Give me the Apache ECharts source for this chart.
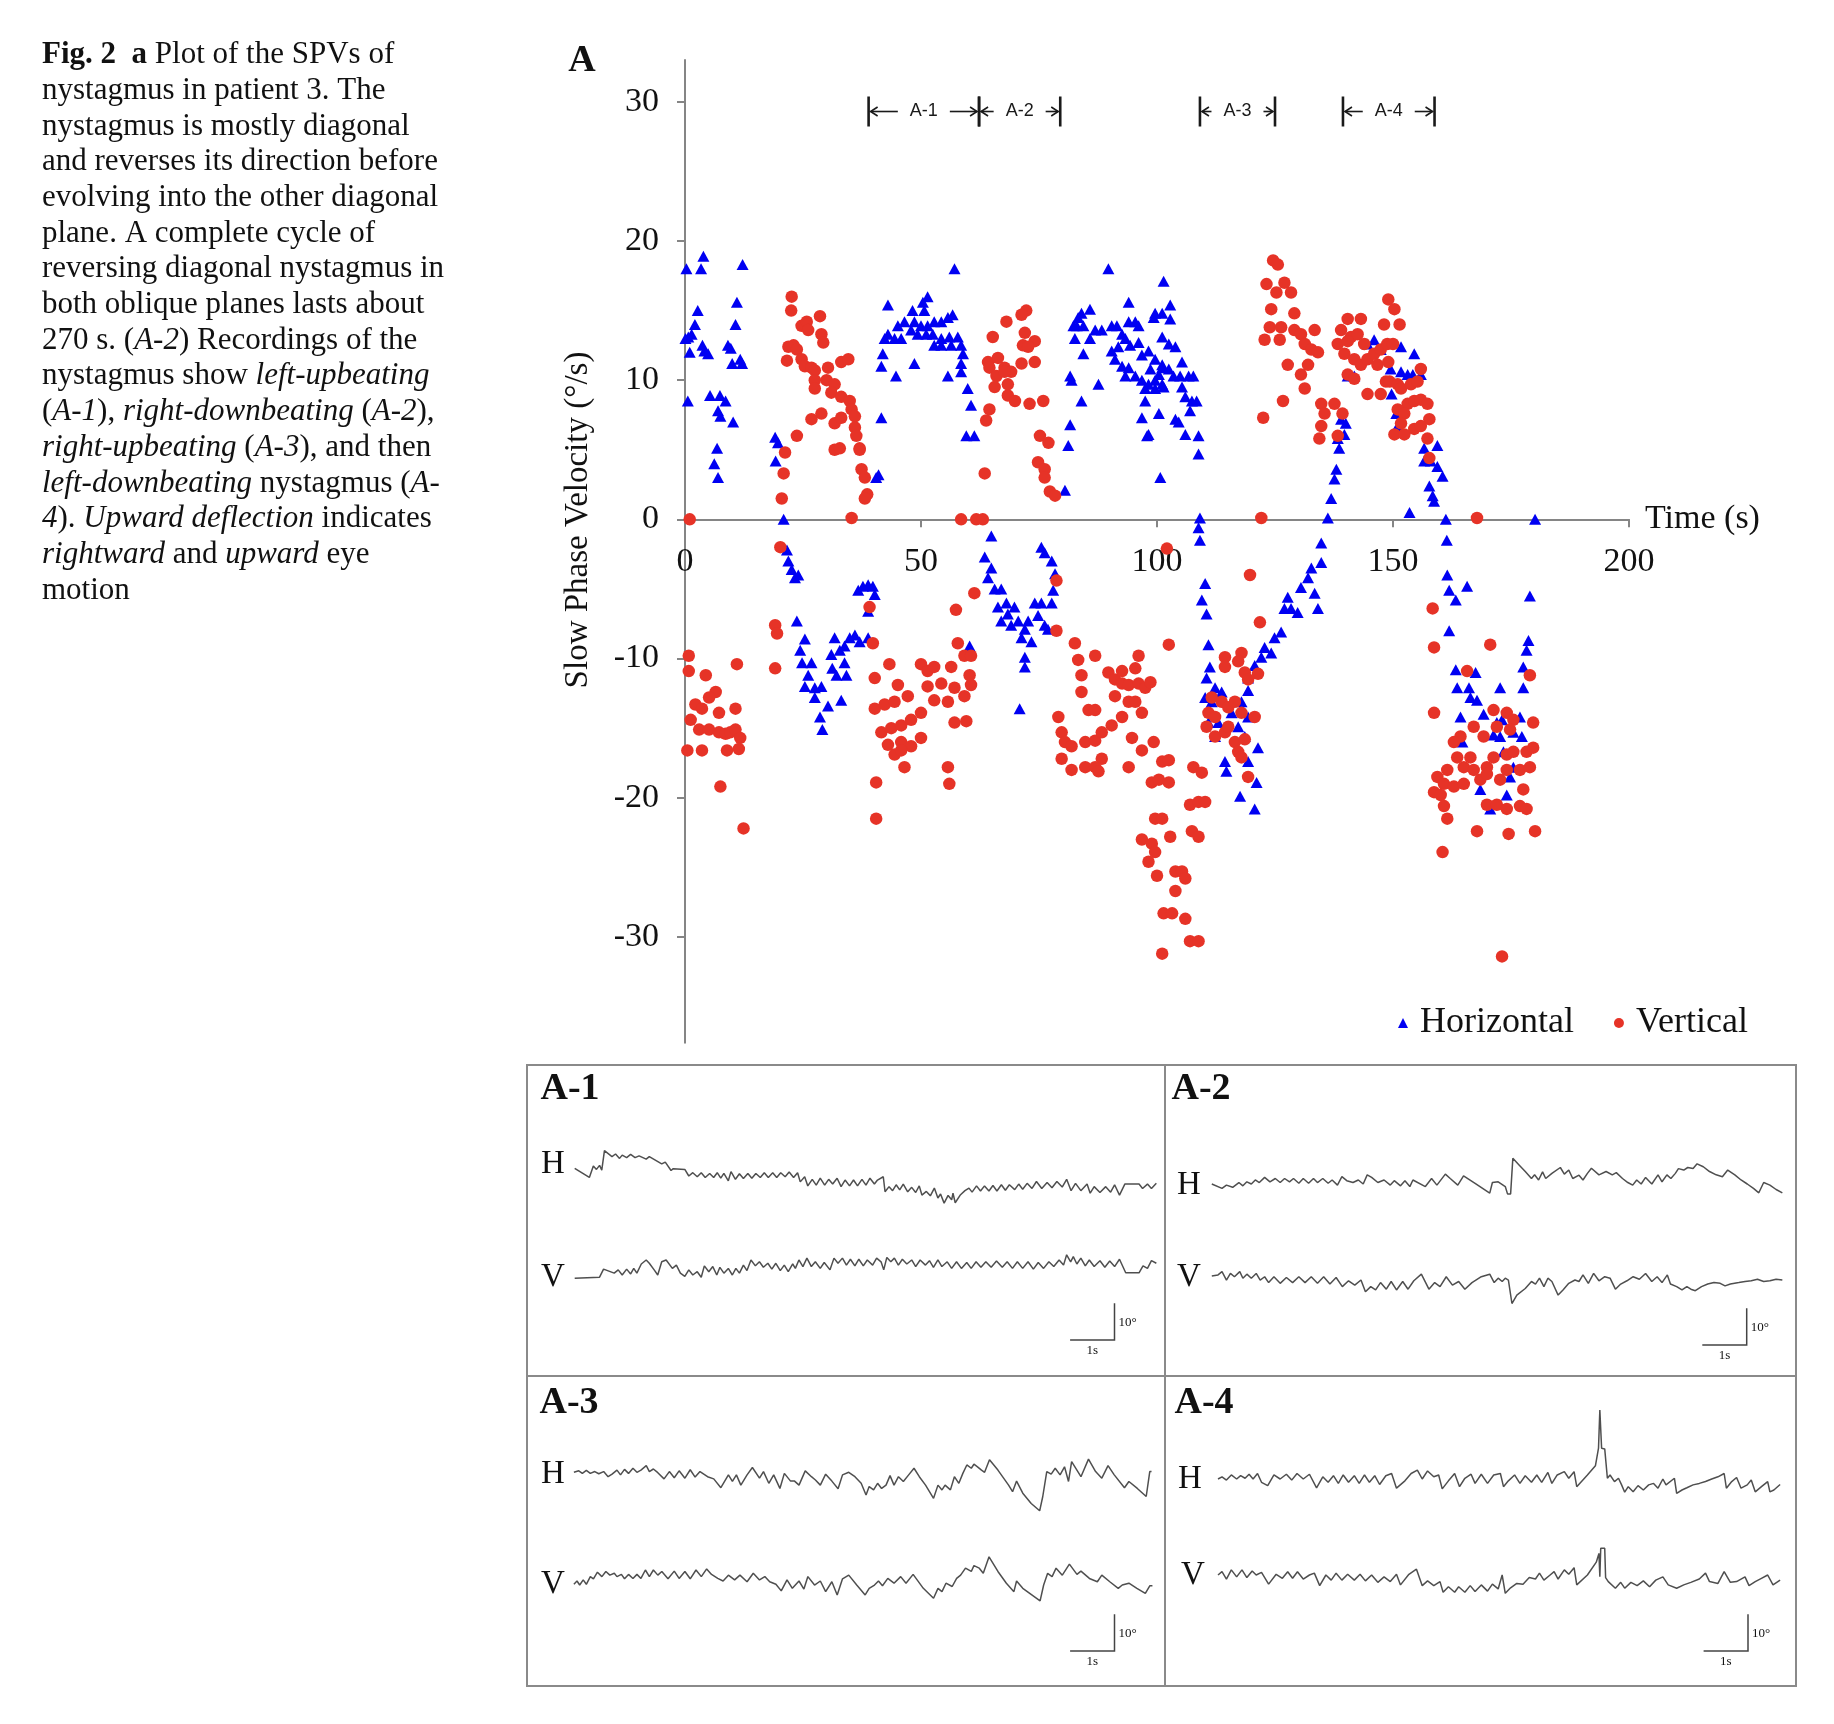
<!DOCTYPE html>
<html>
<head>
<meta charset="utf-8">
<title>Fig. 2 - SPVs of nystagmus in patient 3</title>
<script src="https://cdn.jsdelivr.net/npm/echarts@6/dist/echarts.min.js"></script>
<style>
  html, body { margin: 0; padding: 0; background: #fff; }
  #chart { width: 1834px; height: 1724px; }
</style>
</head>
<body>
<div id="chart"></div>
<script>
// ---- panel A: slow phase velocity (deg/s) against time (s) ----
const horizontal = [
  [0.3,18.0],[3.9,18.9],[3.4,18.0],[12.2,18.3],[2.7,15.0],[11.0,15.6],[2.1,14.0],[10.7,14.0],[1.4,13.3],[0.7,13.1],
  [0.1,13.0],[3.7,12.5],[4.1,12.1],[1.0,12.0],[9.1,12.5],[9.7,12.3],[4.9,11.9],[10.0,11.2],[11.7,11.5],[12.1,11.2],
  [0.6,8.5],[5.3,8.9],[7.4,8.9],[8.6,8.5],[7.0,7.8],[7.5,7.4],[10.2,7.0],[6.8,5.1],[6.2,4.0],[7.0,3.0],
  [19.1,5.9],[19.7,5.5],[19.2,4.2],[20.9,0],[21.6,-2.2],[21.9,-3.0],[22.6,-3.6],[23.3,-4.2],[24.0,-4.0],[23.7,-7.3],
  [25.4,-8.6],[24.4,-9.4],[24.8,-10.3],[26.8,-10.3],[26.1,-11.2],[25.4,-12.0],[27.5,-12.1],[27.5,-12.8],[28.9,-12.0],[28.6,-14.2],
  [29.1,-15.1],[30.3,-13.4],[31.0,-9.7],[31.7,-8.5],[32.8,-9.4],[33.8,-9.1],[34.9,-8.5],[36.0,-8.3],[37.0,-8.8],[38.8,-8.5],
  [31.2,-10.7],[32.1,-11.2],[33.8,-10.3],[33.1,-13.0],[34.2,-11.2],[36.7,-5.1],[37.7,-4.8],[38.8,-4.7],[39.8,-4.8],[40.2,-5.4],[38.8,-6.6],
  [41.0,3.2],[40.5,3.0],[41.6,7.3],[43.0,15.4],[43.0,13.3],[42.3,13.0],[44.4,13.0],[45.8,13.0],[45.1,13.9],[46.5,14.2],
  [41.9,11.9],[41.6,11.0],[44.7,10.3],
  [57.1,18.0],[51.4,16.0],[50.4,15.6],[48.2,15.0],[50.7,15.0],[48.6,14.2],[50.0,13.9],[51.4,13.9],[52.8,14.2],[54.3,14.2],
  [55.7,14.5],[56.7,14.7],[47.9,13.6],[49.3,13.3],[51.1,13.3],[52.5,13.3],[54.3,13.0],[56.0,13.1],[57.8,13.1],[52.8,12.5],
  [54.3,12.5],[56.4,12.5],[58.5,12.5],[58.9,11.9],[55.7,10.3],[58.5,11.2],[58.5,10.6],[59.9,9.4],[60.6,8.2],[59.6,6.0],[61.3,6.0],[48.6,11.2],
  [64.9,-1.2],[63.5,-2.7],[64.9,-3.5],[64.2,-4.2],[65.6,-5.0],[67.0,-5.0],[68.1,-6.0],[66.3,-6.3],[68.4,-6.8],[69.8,-6.3],
  [67.0,-7.3],[69.1,-7.6],[70.6,-7.3],[72.0,-7.9],[71.3,-8.5],[73.4,-8.8],[72.7,-7.3],[74.1,-6.0],[75.5,-6.0],[74.8,-6.9],
  [76.2,-7.6],[76.9,-7.9],[77.7,-6.0],[78.0,-5.1],[78.4,-3.9],[77.7,-3.0],[75.5,-2.0],[76.2,-2.4],[72.0,-9.9],[72.0,-10.6],
  [70.9,-13.6],[60.3,-9.1],
  [80.5,2.1],[81.2,5.3],[81.6,6.8],[81.9,10.0],[81.6,10.3],[82.6,13.0],[82.3,13.9],[83.3,14.5],[84.0,14.8],[85.8,15.1],
  [84.4,11.9],[84.0,8.5],[83.0,13.9],[84.4,13.9],[85.8,13.0],[86.9,13.6],[88.3,13.6],[87.6,9.7],[89.7,18.0],[90.4,13.9],
  [91.5,13.9],[92.6,13.3],[94.0,15.6],[94.0,14.2],[95.4,14.2],[96.1,13.9],[91.8,12.4],[93.3,13.0],[94.3,12.5],[96.1,12.7],
  [96.8,11.8],[98.2,12.1],[90.4,12.1],[91.1,11.5],[92.6,11.0],[94.0,10.9],[93.3,10.3],[95.4,10.3],[96.8,10.0],[97.5,9.4],
  [98.2,9.7],[97.5,8.5],[96.8,7.3],[97.9,6.0],[99.6,10.0],[99.6,14.8],[101.1,14.8],[101.4,17.1],[100.7,3.0],[101.1,10.9],[101.1,9.7],
  [102.8,15.4],[99.3,14.5],[102.8,14.4],[101.1,13.1],[102.5,12.6],[103.9,12.4],[105.3,11.3],[99.6,11.5],[101.1,11.1],[98.6,10.8],
  [100.4,10.4],[102.5,10.8],[103.5,10.3],[104.9,10.3],[106.7,10.3],[107.7,10.3],[101.4,9.5],[99.6,9.4],[105.3,9.5],[106.0,8.8],
  [107.4,8.5],[108.4,8.5],[107.0,7.8],[100.4,7.6],[103.9,7.2],[104.6,7.0],[98.2,6.1],[106.0,6.1],[108.8,6.0],[108.8,4.7],
  [109.1,0.1],[108.8,-0.6],[109.1,-1.5],
  [110.2,-4.6],[109.5,-5.8],[110.5,-6.8],[110.9,-9.0],[111.2,-10.6],[110.5,-11.4],[112.3,-12.1],[110.2,-12.8],[111.6,-13.1],[113.7,-12.4],
  [113.0,-14.6],[112.3,-15.6],[114.4,-17.4],[114.7,-18.1],[117.6,-19.9],[120.7,-20.8],[121.1,-18.9],[119.3,-17.4],[121.4,-16.4],[118.6,-15.6],
  [119.3,-14.2],[117.9,-13.1],[119.3,-12.3],[119.3,-11.4],[120.7,-10.5],[122.1,-9.9],[122.8,-9.2],[124.2,-9.6],[124.9,-8.5],[126.3,-8.1],
  [127.0,-6.4],[128.4,-6.4],[129.8,-6.7],[127.7,-5.6],[130.5,-4.9],[132.0,-4.2],[132.7,-3.5],[133.4,-5.3],[134.1,-6.4],[134.8,-3.1],
  [134.8,-1.7],[136.2,0.1],[136.9,1.5],[137.6,2.9],[138.0,3.6],[138.6,5.1],[138.3,5.8],[139.0,7.2],[139.7,6.1],[140.0,6.9],
  [117.2,-14.9],[110.9,-14.6],[115.8,-13.9],
  [140.4,10.3],[141.8,10.3],[144.6,12.6],[146.0,12.9],[147.4,12.2],[149.5,10.8],
  [151.7,12.4],[154.5,11.9],[151.7,10.6],[153.1,10.4],[154.2,10.4],[155.9,10.4],[149.7,9.0],[150.7,7.6],[151.0,6.7],[156.6,5.1],
  [159.4,5.3],[156.6,4.2],[158.0,4.2],[159.4,3.8],[160.5,3.1],[157.7,2.4],[158.4,1.7],[158.7,1.3],[153.5,0.5],[161.2,0],
  [161.4,-1.5],[161.5,-4.0],[161.9,-5.1],[163.3,-5.8],[165.7,-4.8],[161.9,-8.0],[163.3,-10.8],[167.5,-11.0],[163.6,-12.1],[166.1,-12.1],
  [166.4,-12.8],[167.8,-13.0],[172.7,-12.1],[177.6,-12.1],[164.3,-14.2],[169.2,-14.0],[172.0,-14.6],[173.1,-14.4],[176.9,-14.2],[171.3,-15.5],
  [172.7,-15.6],[175.5,-15.3],[177.3,-15.6],[164.7,-16.0],[173.4,-16.7],[175.5,-17.8],[174.8,-18.5],[174.1,-19.8],[168.5,-19.4],[170.6,-20.8],
  [179.0,-5.5],[178.7,-8.7],[178.3,-9.4],[177.6,-10.6],[180.1,0]
];

const vertical = [
  [1.0,0],[22.6,16.0],[22.5,15.0],[28.6,14.6],[24.7,13.9],[25.8,14.2],[26.1,13.6],[28.9,13.3],[29.3,12.7],[23.0,12.5],
  [21.9,12.4],[23.7,12.2],[21.6,11.4],[24.7,11.5],[25.4,11.0],[26.8,10.9],[27.5,10.7],[30.3,10.9],[33.1,11.3],[34.6,11.5],
  [27.5,10.0],[30.0,10.0],[31.7,9.7],[27.5,9.4],[31.0,9.1],[33.1,8.8],[34.9,8.5],[35.3,7.9],[36.0,7.4],[26.8,7.2],
  [28.9,7.6],[31.7,6.9],[33.1,7.3],[36.0,6.6],[36.3,6.0],[37.0,5.1],[31.7,5.0],[32.8,5.1],[37.0,5.0],[37.4,3.6],
  [38.1,3.0],[38.6,1.8],[38.1,1.5],[35.3,0.1],[23.7,6.0],[21.2,4.8],[20.9,3.3],[20.5,1.5],[20.2,-2.0],
  [19.1,-7.6],[19.5,-8.2],[19.1,-10.7],[39.1,-6.3],[39.8,-8.9],
  [0.8,-9.8],[0.8,-10.9],[4.4,-11.2],[11.0,-10.4],[6.5,-12.4],[5.1,-12.8],[2.2,-13.3],[3.6,-13.6],[7.2,-13.9],[10.7,-13.6],
  [1.2,-14.4],[3.0,-15.1],[5.1,-15.1],[7.2,-15.3],[8.6,-15.4],[9.6,-15.3],[10.7,-15.1],[11.7,-15.7],[0.5,-16.6],[3.6,-16.6],
  [8.9,-16.6],[11.4,-16.5],[7.5,-19.2],[12.4,-22.2],
  [43.3,-10.4],[40.2,-11.4],[45.1,-11.9],[40.2,-13.6],[42.3,-13.3],[44.4,-13.1],[50.0,-10.4],[51.4,-10.9],[47.2,-12.7],[41.6,-15.3],
  [43.7,-15.0],[45.8,-14.8],[47.9,-14.4],[50.0,-13.9],[43.0,-16.2],[45.8,-16.0],[47.9,-16.3],[50.0,-15.7],[44.4,-16.9],[46.5,-17.8],
  [40.5,-18.9],[40.5,-21.5],[45.8,-16.6],
  [72.3,15.0],[71.3,14.7],[68.1,14.2],[65.2,13.1],[72.0,13.4],[74.1,12.8],[71.6,12.5],[72.7,12.4],[64.2,11.3],[66.3,11.6],
  [67.7,10.9],[69.1,10.6],[71.3,11.2],[74.1,11.3],[64.5,10.9],[66.0,10.3],[67.7,10.6],[65.6,9.5],[68.4,9.7],[68.4,8.9],
  [69.9,8.5],[73.0,8.3],[75.9,8.5],[64.5,7.9],[63.8,7.1],[75.2,6.0],[77.0,5.5],[74.8,4.1],[76.2,3.6],[76.2,3.0],
  [77.3,2.0],[78.4,1.7],[63.5,3.3],[58.5,0],[61.7,0],[63.1,0],
  [61.3,-5.3],[57.4,-6.5],[57.8,-8.9],[59.2,-9.8],[60.6,-9.8],[52.8,-10.6],[56.4,-10.6],[51.4,-12.0],[54.3,-11.8],[57.1,-12.1],
  [60.3,-11.2],[60.6,-11.9],[52.8,-13.0],[55.7,-13.1],[59.2,-12.7],[57.1,-14.6],[59.6,-14.5],[55.7,-17.8],[56.0,-19.0],
  [78.7,-4.4],[78.7,-8.0],[82.6,-8.9],[83.3,-10.1],[84.0,-11.2],[86.9,-9.8],[89.7,-11.0],[91.1,-11.5],[92.6,-11.8],[94.0,-11.9],
  [96.1,-11.8],[97.5,-12.1],[92.6,-10.9],[96.1,-9.8],[95.4,-10.7],[84.0,-12.4],[85.5,-13.7],[86.9,-13.7],[91.1,-12.7],[94.0,-13.1],
  [95.4,-13.1],[96.8,-13.9],[79.1,-14.2],[79.8,-15.3],[80.5,-16.0],[81.9,-16.3],[79.8,-17.2],[81.9,-18.0],[84.8,-16.0],[86.9,-15.9],
  [88.3,-15.3],[88.3,-17.2],[84.8,-17.8],[86.9,-17.8],[87.6,-18.1],[90.4,-14.8],[92.6,-14.2],[94.7,-15.7],[94.0,-17.8],[96.8,-16.6],
  [98.9,-18.9],[99.6,-21.5],[96.8,-23.0],[98.9,-23.3],
  [124.6,18.6],[125.6,18.3],[123.2,16.9],[125.3,16.3],[127.0,17.0],[128.4,16.3],[124.2,15.1],[129.1,14.8],[122.8,12.9],[123.9,13.8],
  [126.0,12.9],[126.3,13.8],[129.1,13.6],[130.5,13.3],[131.3,12.6],[132.7,12.2],[133.4,13.6],[134.1,12.0],[127.7,11.1],[130.5,10.4],
  [132.0,11.1],[131.3,9.4],[126.7,8.5],[122.5,7.3],[122.1,0.1],[119.7,-4.0],[121.8,-7.4],[102.1,-2.1],[102.5,-9.0],
  [134.8,8.3],[135.5,7.6],[134.8,6.7],[134.4,5.8],[137.6,8.3],[138.3,6.0],[139.3,7.6],[139.0,13.6],[140.4,14.4],[143.2,14.4],
  [141.1,13.1],[142.5,13.3],[138.3,12.6],[139.7,11.9],[140.4,12.8],[143.9,12.6],[141.8,11.5],[143.2,11.1],[144.6,11.5],[146.0,11.9],
  [146.7,11.1],[147.4,12.2],[148.8,12.6],[148.1,14.0],[140.4,10.4],[141.8,10.1],[144.6,9.0],[147.4,9.0],[148.5,9.9],
  [149.0,15.8],[150.3,15.1],[151.4,14.0],[150.0,12.6],[149.0,11.3],[149.3,9.9],[151.0,9.7],[151.7,9.4],[153.8,9.7],[155.2,9.9],
  [155.9,10.8],[153.1,8.3],[154.5,8.5],[155.9,8.6],[157.3,8.3],[157.7,7.2],[151.0,7.9],[152.4,7.6],[151.7,6.9],[150.3,6.1],
  [152.4,6.1],[154.5,6.5],[155.9,6.7],[157.3,5.8],[157.7,4.4],[167.8,0.1],
  [114.4,-9.9],[117.9,-9.6],[114.4,-10.6],[117.2,-10.2],[118.6,-11.0],[121.4,-11.1],[119.3,-11.5],[111.6,-12.8],[110.9,-13.9],[112.3,-14.2],
  [113.7,-13.1],[115.1,-13.5],[116.5,-13.1],[117.9,-13.9],[120.7,-14.2],[110.5,-14.9],[112.3,-15.6],[114.4,-15.3],[116.5,-16.0],[118.6,-15.8],
  [117.2,-16.7],[119.3,-18.5],[117.9,-17.1],[115.1,-14.9],
  [98.6,-11.7],[99.3,-16.0],[101.1,-17.4],[102.5,-17.3],[100.4,-18.7],[102.5,-18.9],[107.7,-17.8],[109.5,-18.2],[107.0,-20.5],[108.8,-20.3],
  [110.2,-20.3],[101.1,-21.5],[107.4,-22.4],[108.8,-22.8],[102.8,-22.8],[99.6,-23.9],[98.2,-24.6],[103.9,-25.3],[105.3,-25.3],[106.0,-25.8],
  [100.0,-25.6],[103.9,-26.7],[101.4,-28.3],[103.2,-28.3],[106.0,-28.7],[107.0,-30.3],[108.8,-30.3],[101.1,-31.2],
  [158.4,-6.4],[158.7,-9.2],[158.7,-13.9],[165.7,-10.9],[170.6,-9.0],[179.0,-11.2],[171.3,-13.7],[174.1,-13.9],[175.5,-14.4],[164.3,-15.6],
  [167.1,-14.9],[169.2,-15.6],[172.0,-14.9],[174.8,-15.1],[179.7,-14.6],[162.9,-16.0],[163.6,-17.1],[166.4,-17.1],[161.5,-18.0],[165.0,-17.8],
  [167.1,-18.0],[169.9,-17.8],[171.3,-17.1],[174.1,-16.9],[175.5,-16.7],[178.3,-16.7],[179.7,-16.4],[159.4,-18.5],[160.8,-19.0],[162.9,-19.2],
  [165.0,-19.0],[168.5,-18.7],[169.9,-18.3],[172.7,-18.7],[174.1,-18.0],[176.9,-18.0],[179.0,-17.8],[158.7,-19.6],[160.1,-19.8],[177.6,-19.4],
  [169.9,-20.5],[172.0,-20.5],[174.1,-20.8],[176.9,-20.6],[178.3,-20.8],[160.8,-20.6],[161.5,-21.5],[167.8,-22.4],[174.5,-22.6],[180.1,-22.4],
  [160.5,-23.9],[173.1,-31.4]
];

const yTicks = [-30, -20, -10, 0, 10, 20, 30];

// recording windows marked above the plot (s)
const windows = [[38.9, 62.3], [62.3, 79.5], [109.1, 125.0], [139.4, 158.8]];
const windowNames = ['A-1', 'A-2', 'A-3', 'A-4'];
const windowLevel = 29.3;

// ---- recordings A-1..A-4: [time (s), eye position (deg)] ----
const a1H = [
  [0,0],[0.33,-2.5],[0.42,0.6],[0.49,-0.3],[0.56,0.8],[0.61,-0.5],[0.67,4.8],[0.84,3.2],[0.92,3.9],[1.01,2.7],
  [1.07,3.6],[1.17,2.9],[1.26,3.8],[1.36,2.9],[1.45,3.4],[1.61,2.5],[1.68,3.2],[1.96,1.2],[2.04,1.7],[2.17,-0.6],
  [2.22,-0.1],[2.48,-0.3],[2.57,-2.1],[2.66,-1.2],[2.76,-2.3],[2.85,-1.2],[2.94,-2.5],[3.04,-1.4],[3.13,-2.5],[3.21,-1.2],
  [3.29,-2.7],[3.36,-1.4],[3.46,-3.4],[3.52,-0.9],[3.62,-3.0],[3.71,-1.5],[3.80,-2.8],[3.90,-1.4],[3.99,-2.7],[4.08,-1.4],
  [4.18,-2.5],[4.27,-1.2],[4.36,-2.5],[4.46,-1.2],[4.55,-2.5],[4.64,-1.2],[4.74,-2.3],[4.83,-1.0],[4.93,-2.5],[5.02,-1.2],
  [5.08,-3.7],[5.18,-2.3],[5.25,-4.8],[5.35,-3.0],[5.44,-4.6],[5.53,-2.7],[5.63,-4.6],[5.72,-3.0],[5.81,-4.3],[5.91,-2.7],
  [6.00,-5.0],[6.09,-3.2],[6.19,-4.8],[6.28,-3.2],[6.37,-4.8],[6.47,-3.0],[6.56,-4.6],[6.65,-2.7],[6.75,-4.3],[6.82,-3.2],
  [6.95,-2.3],[6.99,-6.4],[7.08,-5.0],[7.16,-6.1],[7.24,-4.5],[7.32,-5.9],[7.40,-4.3],[7.50,-6.4],[7.59,-5.2],[7.68,-6.6],
  [7.76,-4.8],[7.82,-7.3],[7.92,-6.3],[8.01,-7.5],[8.10,-5.4],[8.18,-8.1],[8.24,-7.0],[8.32,-9.5],[8.41,-7.4],[8.49,-8.6],
  [8.52,-6.8],[8.57,-9.4],[8.69,-7.2],[8.79,-6.1],[8.88,-5.4],[8.95,-6.5],[9.05,-4.8],[9.14,-6.2],[9.23,-4.8],[9.33,-6.2],
  [9.42,-4.7],[9.51,-6.2],[9.61,-4.5],[9.70,-6.0],[9.79,-4.5],[9.91,-5.8],[10.00,-4.3],[10.09,-5.7],[10.19,-4.1],[10.30,-5.5],
  [10.40,-3.6],[10.52,-5.5],[10.64,-3.9],[10.75,-5.3],[10.86,-3.6],[10.98,-5.1],[11.08,-3.0],[11.18,-6.1],[11.28,-4.1],[11.40,-6.1],
  [11.54,-4.3],[11.61,-6.8],[11.70,-5.0],[11.83,-6.6],[11.96,-5.0],[12.07,-6.5],[12.16,-4.5],[12.27,-7.3],[12.39,-4.3],[12.71,-4.3],
  [12.79,-5.5],[12.90,-4.3],[12.99,-5.5],[13.10,-4.1]
];
const a1V = [
  [0,0],[0.56,0.3],[0.65,2.5],[0.89,1.4],[0.98,2.3],[1.07,0.9],[1.17,2.5],[1.26,1.2],[1.33,2.7],[1.40,1.4],
  [1.50,3.9],[1.61,5.0],[1.68,4.1],[1.79,2.3],[1.87,0.9],[1.96,4.5],[2.06,5.0],[2.20,2.7],[2.29,3.6],[2.38,1.4],
  [2.48,0.5],[2.57,2.3],[2.66,0.9],[2.76,1.8],[2.85,0.3],[2.92,3.4],[3.02,1.8],[3.11,3.2],[3.20,0.9],[3.27,3.0],
  [3.36,1.4],[3.46,2.7],[3.55,0.9],[3.63,2.7],[3.71,1.4],[3.80,3.6],[3.88,2.1],[3.97,5.0],[4.07,3.4],[4.16,4.5],
  [4.25,3.0],[4.35,4.1],[4.44,2.5],[4.53,4.1],[4.63,2.1],[4.72,3.6],[4.81,1.8],[4.91,3.9],[4.97,2.7],[5.05,5.0],
  [5.14,3.2],[5.23,5.5],[5.33,3.2],[5.42,4.5],[5.53,2.7],[5.62,4.3],[5.75,2.3],[5.84,5.5],[5.93,4.1],[6.03,5.5],
  [6.12,3.6],[6.21,5.2],[6.31,3.4],[6.40,5.2],[6.50,3.4],[6.59,5.0],[6.71,3.6],[6.80,5.5],[6.90,4.5],[6.96,2.3],
  [7.03,5.7],[7.12,4.5],[7.20,5.5],[7.29,3.6],[7.38,5.2],[7.48,3.9],[7.59,5.0],[7.68,3.2],[7.78,5.0],[7.90,3.6],
  [7.99,4.8],[8.08,3.0],[8.18,5.0],[8.27,3.2],[8.39,4.5],[8.49,2.7],[8.60,4.5],[8.71,2.7],[8.83,4.3],[8.93,2.7],
  [9.04,4.5],[9.15,3.0],[9.26,4.5],[9.38,3.0],[9.50,4.7],[9.63,3.0],[9.74,4.5],[9.86,2.7],[9.97,4.5],[10.09,2.7],
  [10.21,4.5],[10.33,2.5],[10.44,4.3],[10.56,2.7],[10.68,4.5],[10.79,3.2],[10.91,5.0],[11.01,3.6],[11.08,6.4],[11.17,4.5],
  [11.23,5.9],[11.31,3.9],[11.40,5.5],[11.50,3.4],[11.59,5.0],[11.70,3.2],[11.83,4.8],[11.94,3.0],[12.05,4.7],[12.16,3.2],
  [12.27,5.2],[12.41,1.5],[12.71,1.5],[12.80,3.4],[12.90,2.7],[12.99,4.8],[13.10,4.1]
];
const a2H = [
  [0,0],[0.23,-1.2],[0.33,-0.3],[0.47,-0.9],[0.61,0.4],[0.70,-0.5],[0.79,0.6],[0.89,0],[0.98,1.1],[1.07,0.4],
  [1.19,1.8],[1.31,0.6],[1.43,1.5],[1.54,0.4],[1.64,1.5],[1.75,0.6],[1.84,1.5],[1.96,0.2],[2.06,1.5],[2.18,0.2],
  [2.29,1.5],[2.38,0.4],[2.50,1.5],[2.62,0.2],[2.71,1.1],[2.83,-0.3],[2.93,2.0],[3.04,0.9],[3.18,0.4],[3.30,1.1],
  [3.41,0],[3.50,2.5],[3.60,1.8],[3.74,0.4],[3.88,1.1],[4.02,-0.3],[4.11,0.9],[4.25,-0.5],[4.35,0.9],[4.46,-0.7],
  [4.53,1.1],[4.81,-0.7],[4.95,1.5],[5.07,-0.3],[5.26,2.7],[5.37,1.5],[5.54,-0.3],[5.67,2.2],[5.93,0.2],[6.26,-2.5],
  [6.32,0.4],[6.45,0.6],[6.61,-0.7],[6.66,-2.7],[6.73,-2.7],[6.78,7.0],[6.92,5.2],[7.06,3.4],[7.20,1.5],[7.27,2.5],
  [7.36,1.1],[7.45,3.3],[7.52,1.5],[7.66,2.9],[7.85,4.5],[7.94,2.7],[8.04,3.8],[8.13,1.5],[8.27,2.4],[8.36,1.1],
  [8.46,2.9],[8.55,4.3],[8.72,2.5],[8.88,3.4],[9.02,2.5],[9.11,3.1],[9.25,1.5],[9.37,0.4],[9.48,-0.3],[9.57,1.1],
  [9.67,0],[9.77,1.8],[9.91,0],[10.05,2.5],[10.14,0.6],[10.25,2.5],[10.34,1.5],[10.44,2.9],[10.51,4.2],[10.63,3.8],
  [10.72,4.5],[10.84,4.2],[10.93,5.5],[11.07,4.7],[11.21,3.4],[11.36,2.5],[11.50,2.0],[11.62,3.8],[11.78,2.5],[11.92,1.1],
  [12.06,0],[12.20,-1.2],[12.32,-2.4],[12.43,0.4],[12.57,-0.3],[12.71,-1.5],[12.85,-2.4]
];
const a2V = [
  [0,0],[0.14,0.3],[0.23,1.2],[0.33,-1.1],[0.42,0.7],[0.51,-0.2],[0.63,1.2],[0.70,-0.6],[0.79,0.5],[0.89,-0.6],
  [1.00,0.7],[1.09,-1.1],[1.19,-0.2],[1.28,-1.8],[1.40,-0.2],[1.54,-2.0],[1.68,-0.4],[1.82,-1.8],[1.96,-0.2],[2.10,-1.8],
  [2.24,-0.2],[2.38,-2.0],[2.52,-0.2],[2.66,-2.2],[2.80,-0.4],[2.94,-2.9],[3.08,-1.3],[3.22,-2.5],[3.36,-1.1],[3.46,-4.3],
  [3.58,-2.9],[3.69,-3.8],[3.80,-1.8],[3.93,-3.6],[4.04,-1.5],[4.16,-3.8],[4.30,-1.5],[4.42,-3.6],[4.55,-1.3],[4.72,0.5],
  [4.89,-3.6],[5.02,-1.8],[5.14,-2.9],[5.28,-0.2],[5.42,-2.5],[5.56,-1.5],[5.70,-3.6],[5.86,-1.8],[6.07,-0.2],[6.26,0.5],
  [6.36,-1.8],[6.45,-0.6],[6.54,-1.5],[6.61,-0.6],[6.68,-1.1],[6.76,-7.5],[6.87,-5.2],[7.06,-3.4],[7.20,-1.5],[7.29,-2.2],
  [7.38,-0.6],[7.48,-2.9],[7.57,-0.6],[7.66,-1.5],[7.80,-5.2],[7.91,-3.8],[8.04,-2.0],[8.18,-1.1],[8.27,-1.5],[8.36,0.3],
  [8.48,-2.0],[8.60,0.7],[8.72,-1.3],[8.85,-0.2],[8.97,-0.6],[9.09,-3.6],[9.21,-2.2],[9.35,-1.3],[9.49,-0.2],[9.63,-0.9],
  [9.77,0.7],[9.91,-1.5],[10.03,-0.2],[10.14,-1.8],[10.26,0.3],[10.33,-2.2],[10.47,-2.9],[10.59,-3.8],[10.70,-2.9],[10.79,-3.6],
  [10.89,-4.0],[11.03,-2.9],[11.17,-2.2],[11.31,-1.8],[11.45,-2.0],[11.56,-2.7],[11.68,-2.2],[11.87,-1.8],[12.01,-1.5],[12.15,-1.3],
  [12.29,-0.9],[12.43,-1.5],[12.57,-1.3],[12.71,-0.9],[12.85,-1.1]
];
const a3H = [
  [0,0],[0.11,0.4],[0.19,-0.3],[0.28,0.5],[0.37,-0.3],[0.47,0.2],[0.56,-0.4],[0.67,0.2],[0.77,-1.2],[0.86,-0.5],
  [0.97,0.6],[1.05,-0.7],[1.14,0.8],[1.23,-0.3],[1.33,1.1],[1.42,0],[1.51,0.6],[1.63,1.8],[1.70,0.2],[1.79,0.9],
  [1.89,-0.1],[2.03,-1.8],[2.15,0.2],[2.26,-1.5],[2.37,0.4],[2.50,-1.6],[2.62,0.7],[2.73,-1.3],[2.84,0.2],[3.01,-1.2],
  [3.15,-1.8],[3.31,-4.2],[3.48,-0.7],[3.57,-2.5],[3.66,-0.7],[3.76,-3.5],[3.90,-0.7],[4.02,1.3],[4.18,-1.6],[4.27,0.2],
  [4.39,-3.0],[4.50,-0.7],[4.64,-4.4],[4.74,-0.3],[4.88,-2.4],[4.97,-2.4],[5.07,-3.5],[5.21,0.4],[5.35,-1.2],[5.44,-2.1],
  [5.55,-3.5],[5.67,-0.5],[5.81,-2.4],[5.95,-4.5],[6.05,-0.7],[6.19,0],[6.33,-1.2],[6.47,-3.0],[6.58,-6.2],[6.65,-3.9],
  [6.75,-4.8],[6.84,-3.0],[6.93,-4.4],[7.03,-3.5],[7.12,-0.9],[7.21,-3.5],[7.31,-1.2],[7.42,-2.5],[7.54,-0.7],[7.66,1.1],
  [7.78,-1.2],[7.92,-3.5],[8.10,-7.1],[8.20,-3.5],[8.29,-4.8],[8.36,-3.5],[8.48,-4.8],[8.57,-1.2],[8.67,-3.0],[8.76,-0.3],
  [8.85,2.0],[8.95,1.1],[9.01,2.2],[9.09,1.5],[9.18,0.6],[9.25,0],[9.36,3.4],[9.55,0.6],[9.79,-3.5],[9.88,-5.3],
  [9.97,-2.4],[10.11,-5.7],[10.30,-8.5],[10.49,-10.5],[10.56,-6.6],[10.65,0.2],[10.75,-0.5],[10.84,1.1],[10.95,-0.7],[11.05,1.5],
  [11.14,-2.5],[11.21,2.9],[11.42,-1.2],[11.59,3.6],[11.75,0.2],[11.89,-1.6],[12.03,1.8],[12.17,-0.7],[12.40,-4.2],[12.50,-2.5],
  [12.69,-4.4],[12.89,-6.6],[12.97,0.2],[13.01,0.2]
];
const a3V = [
  [0,0],[0.07,0.9],[0.13,-0.2],[0.21,1.2],[0.28,0],[0.37,2.1],[0.44,1.5],[0.53,3.3],[0.63,2.1],[0.72,3.5],
  [0.81,2.5],[0.91,3.0],[0.97,2.1],[1.07,2.7],[1.14,1.5],[1.23,2.7],[1.33,1.6],[1.42,2.7],[1.51,1.6],[1.61,3.9],
  [1.70,2.1],[1.79,3.9],[1.89,2.5],[1.98,3.5],[2.12,1.5],[2.26,3.6],[2.37,1.6],[2.50,3.5],[2.62,1.5],[2.75,3.9],
  [2.87,2.1],[2.99,4.2],[3.10,2.7],[3.24,1.6],[3.36,0.9],[3.48,2.5],[3.62,1.2],[3.74,2.5],[3.90,0.7],[4.04,3.0],
  [4.18,1.2],[4.30,2.1],[4.41,0.7],[4.55,0],[4.67,-1.8],[4.80,1.2],[4.92,-1.1],[5.07,0.9],[5.18,-1.3],[5.27,2.1],
  [5.42,-0.2],[5.55,0.9],[5.67,-2.0],[5.81,0.7],[5.93,-2.9],[6.05,1.5],[6.19,2.5],[6.37,-0.2],[6.56,-2.9],[6.65,-1.1],
  [6.77,-0.2],[6.86,0.9],[6.95,-0.4],[7.07,1.6],[7.21,0.3],[7.36,2.1],[7.48,0.3],[7.64,2.7],[7.87,-1.1],[8.10,-3.8],
  [8.20,-1.1],[8.29,-2.0],[8.38,0.3],[8.52,-0.6],[8.62,1.6],[8.71,2.5],[8.82,4.4],[8.95,3.5],[9.01,5.1],[9.13,4.4],
  [9.22,3.0],[9.35,7.5],[9.55,3.5],[9.74,0.3],[9.91,-2.0],[9.97,0.9],[10.11,-1.1],[10.50,-4.5],[10.58,-0.2],[10.67,3.0],
  [10.77,2.1],[10.86,4.4],[11.00,2.5],[11.16,5.5],[11.33,2.7],[11.42,3.6],[11.61,1.6],[11.79,0.7],[11.89,2.5],[12.07,0.7],
  [12.26,-1.1],[12.35,-0.2],[12.50,0.3],[12.68,-1.1],[12.87,-2.5],[12.97,-0.4],[13.03,-0.4]
];
const a4H = [
  [0,0],[0.09,0.6],[0.19,-0.3],[0.30,1.1],[0.42,0],[0.51,0.9],[0.61,0.2],[0.70,1.3],[0.79,0],[0.89,1.5],
  [0.98,-0.9],[1.12,-1.8],[1.26,1.1],[1.40,0],[1.54,1.3],[1.66,-0.3],[1.78,1.5],[1.92,0],[2.06,1.3],[2.22,-2.4],
  [2.36,0.6],[2.48,-0.9],[2.60,0.9],[2.71,-1.2],[2.82,1.1],[2.94,-0.9],[3.07,0.9],[3.18,-1.2],[3.30,1.1],[3.41,-0.9],
  [3.53,0.9],[3.64,-1.5],[3.78,0.9],[3.91,1.5],[4.02,-2.5],[4.21,-0.5],[4.35,1.5],[4.49,2.4],[4.60,0],[4.72,2.2],
  [4.86,0.6],[4.97,1.1],[5.05,-2.7],[5.19,-0.5],[5.33,1.5],[5.44,-2.1],[5.56,0.2],[5.70,1.3],[5.79,-1.2],[5.93,1.3],
  [6.07,-1.2],[6.21,1.1],[6.36,1.5],[6.43,-2.1],[6.54,-0.5],[6.68,1.1],[6.80,-1.2],[6.92,0.9],[7.06,-0.9],[7.18,1.1],
  [7.29,-0.9],[7.43,1.8],[7.52,-1.2],[7.64,1.1],[7.80,2.0],[7.90,0.2],[8.02,2.0],[8.08,-2.1],[8.32,1.1],[8.50,3.6],
  [8.57,8.4],[8.60,18.8],[8.64,8.4],[8.71,8.2],[8.77,0.2],[8.83,1.1],[8.93,-0.7],[9.02,0.2],[9.09,-1.6],[9.16,-3.6],
  [9.24,-2.1],[9.35,-3.5],[9.46,-1.8],[9.58,-3.0],[9.70,-1.6],[9.81,-1.2],[9.91,-2.5],[10.02,0],[10.09,-1.6],[10.28,0.2],
  [10.33,-3.9],[10.45,-3.0],[10.56,-2.4],[10.70,-1.6],[10.84,-1.2],[10.98,-0.7],[11.12,0],[11.26,0.6],[11.40,1.5],[11.45,-2.5],
  [11.57,-0.7],[11.68,0.4],[11.78,-2.5],[11.92,-1.6],[12.01,-0.3],[12.10,-3.5],[12.24,-2.1],[12.38,-0.7],[12.43,-3.5],[12.52,-3.0],
  [12.66,-1.5]
];
const a4V = [
  [0,0],[0.09,0.9],[0.19,-1.1],[0.30,1.4],[0.42,-0.5],[0.54,1.4],[0.65,-0.7],[0.77,1.1],[0.86,0],[0.98,0.7],
  [1.14,-2.5],[1.31,0.2],[1.45,-0.9],[1.57,0.9],[1.68,-0.9],[1.79,0.9],[1.92,-1.1],[2.06,0],[2.17,0.5],[2.29,-2.9],
  [2.43,0],[2.55,-1.4],[2.66,0.5],[2.79,-1.4],[2.92,0.2],[3.07,-1.4],[3.20,0.2],[3.32,-1.6],[3.46,0],[3.60,-2.0],
  [3.74,-0.5],[3.88,-1.8],[4.02,0.2],[4.11,-2.7],[4.30,0.2],[4.47,1.6],[4.60,-2.9],[4.72,-1.6],[4.86,-2.9],[5.00,-1.8],
  [5.07,-4.7],[5.19,-3.2],[5.33,-4.7],[5.42,-3.2],[5.56,-4.7],[5.68,-2.9],[5.79,-4.5],[5.93,-2.7],[6.07,-4.4],[6.18,-2.5],
  [6.31,-3.8],[6.40,0],[6.47,-5.0],[6.59,-3.5],[6.73,-2.3],[6.87,-2.5],[7.01,-0.7],[7.15,-1.1],[7.24,0.5],[7.34,-1.4],
  [7.48,0],[7.57,0.9],[7.66,-1.1],[7.80,1.4],[7.90,0.2],[8.02,2.0],[8.08,-2.7],[8.32,0],[8.52,3.5],[8.58,5.9],
  [8.60,-0.5],[8.62,7.3],[8.71,7.3],[8.73,-0.7],[8.79,-1.8],[8.83,-1.4],[8.95,-3.6],[9.07,-2.0],[9.16,-3.6],[9.30,-2.0],
  [9.44,-2.9],[9.58,-1.6],[9.72,-3.2],[9.86,-1.4],[10.02,-0.5],[10.14,-2.7],[10.33,-3.6],[10.49,-2.7],[10.65,-2.0],[10.84,-1.1],
  [10.98,0.5],[11.07,-1.8],[11.26,-2.3],[11.40,0.9],[11.54,-2.0],[11.68,-1.8],[11.87,-0.5],[11.96,-2.9],[12.10,-1.8],[12.24,-0.9],
  [12.38,0],[12.50,-2.7],[12.66,-1.4]
];

// ---- layout ----
const SERIF = '"Liberation Serif", "Times New Roman", serif';
const SANS = '"Liberation Sans", Arial, sans-serif';
const AXIS_GREY = '#858585';
const INK = '#111';
const BLUE = '#0000F2';
const RED = '#E63327';

const MAIN = { left: 685, top: 60, width: 944, yMin: -37.6, yMax: 33, pxPerUnit: 13.92 };
const MAIN_HEIGHT = (MAIN.yMax - MAIN.yMin) * MAIN.pxPerUnit;
const ZERO_OFFSET = MAIN.yMin * MAIN.pxPerUnit; // moves the time axis from the grid bottom up to 0 deg/s

const PX_PER_S = 44.4;     // 1 s on the recordings
const PX_PER_DEG = 3.667;  // 1 deg on the recordings
const HALF_RANGE = 25;

const traces = [
  { data: a1H, left: 574.7, base: 1168.3 },
  { data: a1V, left: 574.7, base: 1278.3 },
  { data: a2H, left: 1211.8, base: 1184 },
  { data: a2V, left: 1211.8, base: 1276 },
  { data: a3H, left: 573.9, base: 1472.3 },
  { data: a3V, left: 573.9, base: 1584.3 },
  { data: a4H, left: 1218, base: 1479 },
  { data: a4V, left: 1218, base: 1575 }
];

const panels = [
  { name: 'A-1', title: [570, 1089], h: [553, 1164], v: [553, 1277], bar: [1114.5, 1340] },
  { name: 'A-2', title: [1201, 1089], h: [1189, 1185], v: [1189, 1277], bar: [1746.7, 1345] },
  { name: 'A-3', title: [569, 1403], h: [553, 1474], v: [553, 1584], bar: [1114.5, 1651] },
  { name: 'A-4', title: [1204, 1403], h: [1190, 1479], v: [1193, 1575], bar: [1748, 1651] }
];

const captionLines = [
  '{b|Fig. 2}  {b|a} Plot of the SPVs of',
  'nystagmus in patient 3. The',
  'nystagmus is mostly diagonal',
  'and reverses its direction before',
  'evolving into the other diagonal',
  'plane. A complete cycle of',
  'reversing diagonal nystagmus in',
  'both oblique planes lasts about',
  '270 s. ({i|A-2}) Recordings of the',
  'nystagmus show {i|left-upbeating}',
  '({i|A-1}), {i|right-downbeating} ({i|A-2}),',
  '{i|right-upbeating} ({i|A-3}), and then',
  '{i|left-downbeating} nystagmus ({i|A-}',
  '{i|4}). {i|Upward deflection} indicates',
  '{i|rightward} and {i|upward} eye',
  'motion'
];

const chart = echarts.init(document.getElementById('chart'), null, { renderer: 'canvas' });

const grids = [{ left: MAIN.left, top: MAIN.top, width: MAIN.width, height: MAIN_HEIGHT, outerBoundsMode: 'none' }];
const xAxes = [{
  type: 'value', gridIndex: 0, min: 0, max: 200, interval: 50,
  position: 'bottom', offset: ZERO_OFFSET,
  name: 'Time (s)', nameLocation: 'end', nameGap: 16,
  nameTextStyle: { fontFamily: SERIF, fontSize: 34, color: INK, padding: [28, 0, 0, 0] },
  axisLine: { onZero: false, lineStyle: { color: AXIS_GREY, width: 2 } },
  axisTick: { show: true, length: 8, lineStyle: { color: AXIS_GREY, width: 2 } },
  axisLabel: { margin: 26, fontFamily: SERIF, fontSize: 34, color: INK },
  splitLine: { show: false }
}];
const yAxes = [{
  type: 'value', gridIndex: 0, min: MAIN.yMin, max: MAIN.yMax,
  axisLine: { show: true, onZero: false, lineStyle: { color: AXIS_GREY, width: 2 } },
  axisTick: { show: true, length: 8, customValues: yTicks, lineStyle: { color: AXIS_GREY, width: 2 } },
  axisLabel: { margin: 26, customValues: yTicks, fontFamily: SERIF, fontSize: 34, color: INK },
  splitLine: { show: false }
}];

const series = [
  {
    name: 'Horizontal', type: 'scatter', xAxisIndex: 0, yAxisIndex: 0,
    symbol: 'triangle', symbolSize: [12, 11],
    itemStyle: { color: BLUE, opacity: 1 },
    data: horizontal, silent: true, z: 3
  },
  {
    name: 'Vertical', type: 'scatter', xAxisIndex: 0, yAxisIndex: 0,
    symbol: 'circle', symbolSize: 12.5,
    itemStyle: { color: RED, opacity: 1 },
    data: vertical, silent: true, z: 4
  },
  {
    type: 'custom', xAxisIndex: 0, yAxisIndex: 0, data: windows, silent: true, clip: false, z: 5,
    renderItem(params, api) {
      const s = api.coord([api.value(0), windowLevel]);
      const e = api.coord([api.value(1), windowLevel]);
      const y = s[1], cx = (s[0] + e[0]) / 2, h = 15, gap = 26;
      const thin = { stroke: '#1a1a1a', lineWidth: 1.6, fill: null };
      const bold = { stroke: '#1a1a1a', lineWidth: 2.6 };
      return {
        type: 'group',
        children: [
          { type: 'line', shape: { x1: s[0], y1: y - h, x2: s[0], y2: y + h }, style: bold },
          { type: 'line', shape: { x1: e[0], y1: y - h, x2: e[0], y2: y + h }, style: bold },
          { type: 'line', shape: { x1: s[0] + 2, y1: y, x2: cx - gap, y2: y }, style: thin },
          { type: 'polyline', shape: { points: [[s[0] + 9, y - 4.5], [s[0] + 2, y], [s[0] + 9, y + 4.5]] }, style: thin },
          { type: 'line', shape: { x1: cx + gap, y1: y, x2: e[0] - 2, y2: y }, style: thin },
          { type: 'polyline', shape: { points: [[e[0] - 9, y - 4.5], [e[0] - 2, y], [e[0] - 9, y + 4.5]] }, style: thin },
          {
            type: 'text', x: cx, y: y,
            style: { text: windowNames[params.dataIndex], align: 'center', verticalAlign: 'middle', font: '18px ' + SANS, fill: '#1a1a1a' }
          }
        ]
      };
    }
  }
];

traces.forEach((tr, i) => {
  const idx = i + 1;
  const dur = tr.data[tr.data.length - 1][0];
  grids.push({
    left: tr.left, top: tr.base - HALF_RANGE * PX_PER_DEG,
    width: dur * PX_PER_S, height: 2 * HALF_RANGE * PX_PER_DEG, outerBoundsMode: 'none'
  });
  xAxes.push({ type: 'value', gridIndex: idx, min: 0, max: dur, show: false });
  yAxes.push({ type: 'value', gridIndex: idx, min: -HALF_RANGE, max: HALF_RANGE, show: false });
  series.push({
    type: 'line', xAxisIndex: idx, yAxisIndex: idx, data: tr.data,
    symbol: 'none', silent: true,
    lineStyle: { color: '#4f4f4f', width: 1.5 }
  });
});

const graphics = [];
const rich = {
  b: { font: 'bold 31px ' + SERIF, fill: INK },
  i: { font: 'italic 31px ' + SERIF, fill: INK }
};
captionLines.forEach((line, i) => {
  graphics.push({
    type: 'text', x: 42, y: 55 + i * 35.7,
    style: { text: line, rich: rich, font: '31px ' + SERIF, fill: INK, verticalAlign: 'middle' }
  });
});
graphics.push({
  type: 'text', x: 582, y: 61,
  style: { text: 'A', font: 'bold 38px ' + SERIF, fill: INK, align: 'center', verticalAlign: 'middle' }
});
graphics.push({
  type: 'text', x: 578, y: 520, rotation: Math.PI / 2,
  style: { text: 'Slow Phase Velocity (°/s)', font: '33px ' + SERIF, fill: INK, align: 'center', verticalAlign: 'middle' }
});

// frame of the four recording panels
const frame = { stroke: '#8a8a8a', lineWidth: 2, fill: null };
graphics.push({ type: 'rect', shape: { x: 527, y: 1065, width: 1269, height: 621 }, style: frame });
graphics.push({ type: 'line', shape: { x1: 1165, y1: 1065, x2: 1165, y2: 1686 }, style: frame });
graphics.push({ type: 'line', shape: { x1: 527, y1: 1376, x2: 1796, y2: 1376 }, style: frame });

panels.forEach(p => {
  graphics.push({
    type: 'text', x: p.title[0], y: p.title[1],
    style: { text: p.name, font: 'bold 38px ' + SERIF, fill: INK, align: 'center', verticalAlign: 'middle' }
  });
  graphics.push({
    type: 'text', x: p.h[0], y: p.h[1],
    style: { text: 'H', font: '33px ' + SERIF, fill: INK, align: 'center', verticalAlign: 'middle' }
  });
  graphics.push({
    type: 'text', x: p.v[0], y: p.v[1],
    style: { text: 'V', font: '33px ' + SERIF, fill: INK, align: 'center', verticalAlign: 'middle' }
  });
  const [bx, by] = p.bar;
  graphics.push({
    type: 'polyline',
    shape: { points: [[bx - PX_PER_S, by], [bx, by], [bx, by - 10 * PX_PER_DEG]] },
    style: { stroke: '#444', lineWidth: 1.5, fill: null }
  });
  graphics.push({
    type: 'text', x: bx + 4, y: by - 17,
    style: { text: '10°', font: '13px ' + SERIF, fill: INK, align: 'left', verticalAlign: 'middle' }
  });
  graphics.push({
    type: 'text', x: bx - PX_PER_S / 2, y: by + 11,
    style: { text: '1s', font: '13px ' + SERIF, fill: INK, align: 'center', verticalAlign: 'middle' }
  });
});

chart.setOption({
  animation: false,
  backgroundColor: '#fff',
  grid: grids,
  xAxis: xAxes,
  yAxis: yAxes,
  legend: {
    data: ['Horizontal', 'Vertical'],
    left: 1393, top: 1000,
    itemWidth: 10, itemHeight: 10, itemGap: 40,
    selectedMode: false,
    textStyle: { fontFamily: SERIF, fontSize: 36, color: INK, padding: [0, 0, 0, 7] }
  },
  series: series,
  graphic: graphics
});

window.addEventListener('resize', () => chart.resize());
</script>
</body>
</html>
